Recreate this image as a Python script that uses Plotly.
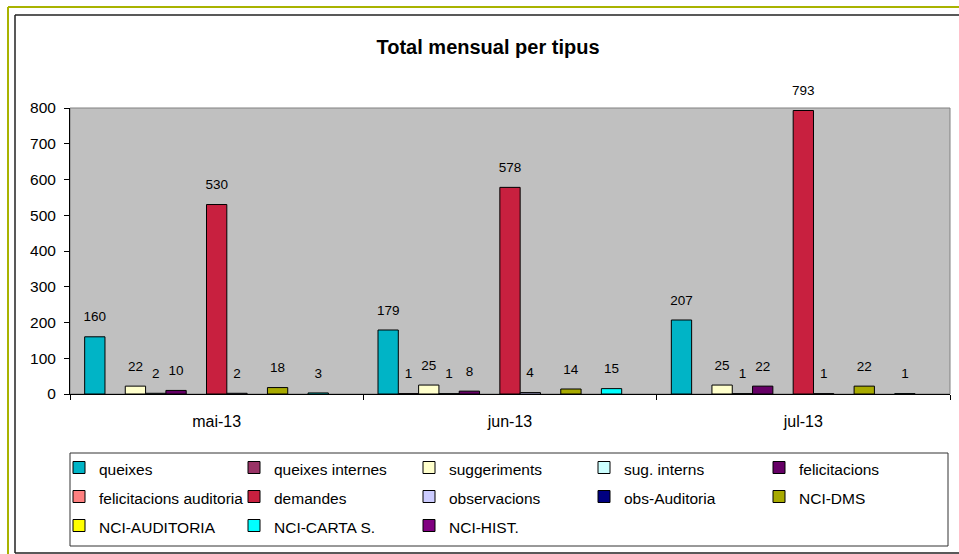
import plotly.graph_objects as go

months = ["mai-13", "jun-13", "jul-13"]
series_names = ["queixes", "queixes internes", "suggeriments", "sug. interns", "felicitacions",
                "felicitacions auditoria", "demandes", "observacions", "obs-Auditoria", "NCI-DMS",
                "NCI-AUDITORIA", "NCI-CARTA S.", "NCI-HIST."]
queixes = [160, 179, 207]
queixes_internes = [None, 1, None]
suggeriments = [22, 25, 25]
sug_interns = [2, 1, 1]
felicitacions = [10, 8, 22]
felicitacions_auditoria = [None, None, None]
demandes = [530, 578, 793]
observacions = [2, 4, 1]
obs_auditoria = [None, None, None]
nci_dms = [18, 14, 22]
nci_auditoria = [None, None, None]
nci_carta = [3, 15, 1]
nci_hist = [None, None, None]
y_ticks = [0, 100, 200, 300, 400, 500, 600, 700, 800]

values = [queixes, queixes_internes, suggeriments, sug_interns, felicitacions,
          felicitacions_auditoria, demandes, observacions, obs_auditoria, nci_dms,
          nci_auditoria, nci_carta, nci_hist]
colors = ["#00B4C6", "#993366", "#FFFFCC", "#CCFFFF", "#660066", "#FF8080", "#C8203F",
          "#CCCCFF", "#000080", "#A8AA00", "#FFFF00", "#00FFFF", "#800080"]

FONT = "Liberation Sans, Arial, sans-serif"
W, H = 959, 554
L, R, T, B = 70, 9, 108, 160
PW, PH = W - L - R, H - T - B

fig = go.Figure()
for name, vals, col in zip(series_names, values, colors):
    fig.add_trace(go.Bar(
        name="<span style='font-size:15.5px'>" + name + "</span>", x=months, y=vals,
        marker=dict(color=col, line=dict(color="black", width=1)),
        texttemplate="<span style='font-size:13.5px'>%{y}</span><br> ", textposition="outside",
        textfont=dict(family=FONT, size=8, color="black"),
        constraintext="none",
        cliponaxis=False,
    ))


def px(x):
    return (x - L) / PW


def py(y):
    return (H - B - y) / PH


shapes = [
    dict(type="rect", xref="paper", yref="paper", x0=0, x1=1, y0=0, y1=1,
         line=dict(color="#808080", width=1), layer="below"),
    # outer olive frame
    dict(type="line", xref="paper", yref="paper", x0=px(8), x1=px(W + 2), y0=py(7), y1=py(7),
         line=dict(color="#A9B300", width=2)),
    dict(type="line", xref="paper", yref="paper", x0=px(8), x1=px(8), y0=py(7), y1=py(H + 2),
         line=dict(color="#A9B300", width=2)),
    # inner black frame
    dict(type="line", xref="paper", yref="paper", x0=px(15), x1=px(W + 2), y0=py(15), y1=py(15),
         line=dict(color="#222222", width=1.5)),
    dict(type="line", xref="paper", yref="paper", x0=px(15), x1=px(15), y0=py(15), y1=py(553),
         line=dict(color="#222222", width=1.5)),
    dict(type="line", xref="paper", yref="paper", x0=px(15), x1=px(W + 2), y0=py(553), y1=py(553),
         line=dict(color="#222222", width=1.5)),
    # legend box
    dict(type="rect", xref="paper", yref="paper", x0=px(70), x1=px(948), y0=py(453), y1=py(546),
         line=dict(color="#333333", width=1)),
]

fig.update_layout(
    width=W, height=H,
    margin=dict(l=L, r=R, t=T, b=B, pad=0, autoexpand=False),
    paper_bgcolor="white", plot_bgcolor="#C0C0C0",
    font=dict(family=FONT, color="black"),
    barmode="group", bargap=0.1, bargroupgap=0,
    title=dict(text="<b>Total mensual per tipus</b>", x=px(488), xref="paper", xanchor="center",
               y=1 - 47 / H, yanchor="middle", font=dict(family=FONT, size=20, color="black")),
    xaxis=dict(type="category", showline=True, linecolor="black", linewidth=1,
               ticks="outside", ticklen=5, tickcolor="black", tickson="boundaries",
               ticklabelstandoff=13, tickfont=dict(size=16), showgrid=False),
    yaxis=dict(range=[0, 800], tickvals=y_ticks, showline=True, linecolor="black", linewidth=1,
               ticks="outside", ticklen=5, tickcolor="black", ticklabelstandoff=5,
               tickfont=dict(size=15.5), showgrid=False, zeroline=False),
    legend=dict(orientation="h", x=px(59), xanchor="left", y=py(448), yanchor="top",
                bgcolor="rgba(0,0,0,0)", borderwidth=0, font=dict(size=20),
                entrywidth=130, entrywidthmode="pixels", traceorder="normal"),
    shapes=shapes,
    showlegend=True,
)

fig.write_html("out.html", post_script="document.body.style.margin='0';",
               config={"displayModeBar": False})
